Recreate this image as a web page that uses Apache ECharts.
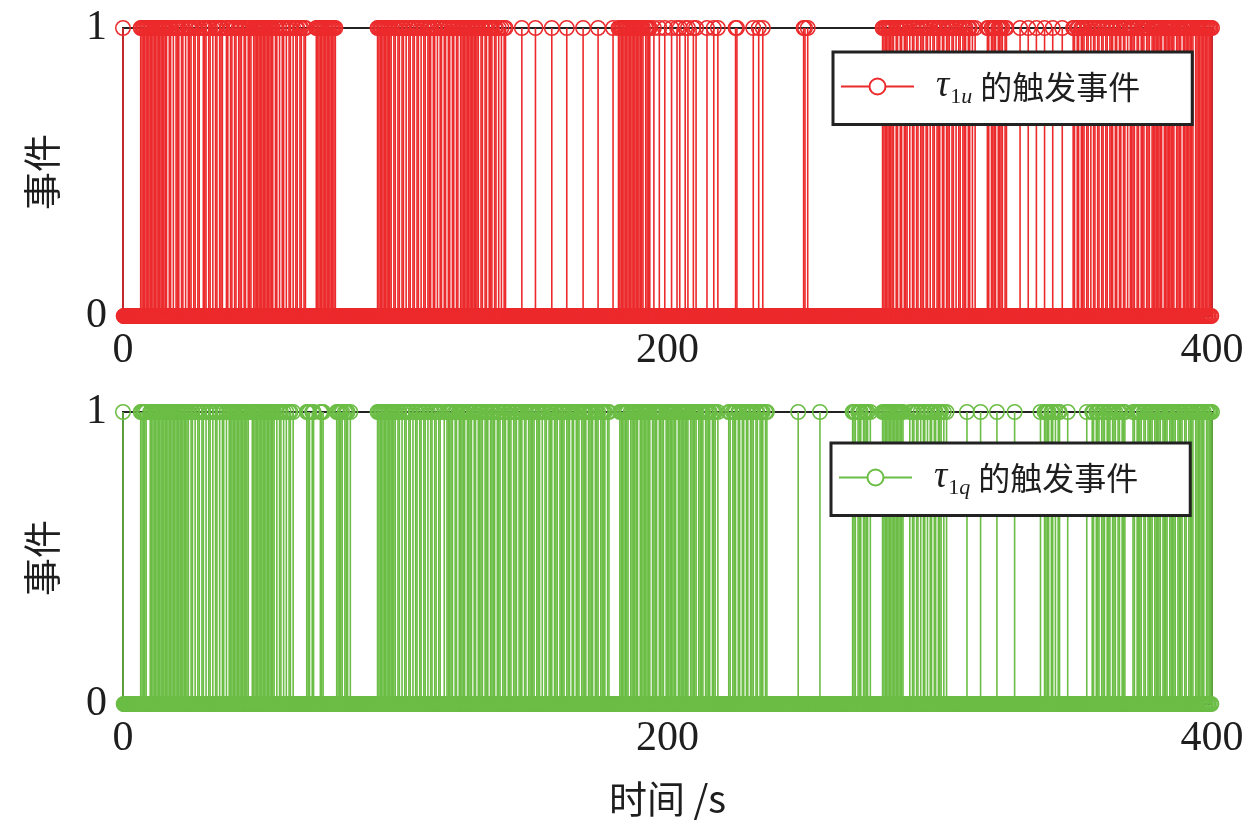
<!DOCTYPE html>
<html><head><meta charset="utf-8">
<script src="https://cdn.jsdelivr.net/npm/echarts@6/dist/echarts.min.js"></script>
<style>html,body{margin:0;padding:0;background:#fff}#c{width:1260px;height:825px}</style>
</head><body><div id="c"></div>
<script>
// sampling interval of the trigger-check flags (seconds)
const sampleStep = 0.5;
const xTicks = [0, 200, 400];
const yTicks = [0, 1];
const xName = '时间 /s';
const yName = '事件';
const redName = 'τ1u 的触发事件';
const greenName = 'τ1q 的触发事件';

// trigger flags, one char per 0.5 s sample, rows of 20 s
const redFlagRows = [
  '1000000000 0001111111 1111111111 1110110101',
  '1101101011 1011011001 1101101011 0111001101',
  '1011011101 1011101111 1111111111 1011010110',
  '1011010110 1101100000 0011111111 1111111000',
  '0000000000 0000000000 0000000111 1111111101',
  '1011011010 1101101101 0110111011 0101101101',
  '1011011011 1111111111 1101101101 1101101010',
  '1100000000 0001000000 0001000000 0000010000',
  '0000001000 0000000010 0000000001 0000000000',
  '1000111111 1111111111 1110111100 1000100010',
  '0001000101 0001010001 0100000001 0000100100',
  '0000000000 1100000000 0001000100 1000000000',
  '0000000000 0000000000 1101000000 0000000000',
  '0000000000 0000000000 0000000000 0000000011',
  '1111111011 0110111010 1101101110 1101011011',
  '1011011101 1010110111 0110101000 0000011011',
  '1101111011 0000000001 0000010000 0100000100',
  '0001000000 1000000011 0110111011 0101101101',
  '1011011101 1011011010 1111011011 1011101111',
  '1111011111 1110111101 1111111011 1111111111',
  '1'
];
const greenFlagRows = [
  '1000000000 0001111100 1111111111 1111111111',
  '1111111110 1101011011 0101101011 0101101011',
  '1111111111 1110011111 1111111111 1101011010',
  '1011010000 0000011101 1000011100 0000000111',
  '1101110100 0000000000 0000000111 1111111111',
  '1011010110 1101011011 0110101101 1011001011',
  '1110110111 1101111011 0111101110 1111011101',
  '1101110111 0111011011 1110111010 1101110111',
  '0111101110 1101110111 1011110111 0111101100',
  '0000011111 1101111110 1111111101 1110111101',
  '1111111011 1111110111 1101111011 1101110100',
  '0000011011 1011011011 0111011011 1011000000',
  '0000000000 0000001000 0000000000 0010000000',
  '0000000000 0000001110 1110111101 0000000011',
  '1111111111 1111000010 1101101011 0101101101',
  '1101010000 0000000000 1000000000 1000000000',
  '0010000000 0000010000 0000000000 0000100111',
  '1011010110 0000100000 0000000010 0011011101',
  '1101110111 0110111000 0011011110 1101111011',
  '1110111101 1111011110 1101111011 1111101111',
  '1'
];
</script>
<script>
const redFlags = redFlagRows.join('').replace(/\s/g, '');
const greenFlags = greenFlagRows.join('').replace(/\s/g, '');

function build(flags) {
  const stems = [], marks = [];
  for (let i = 0; i < flags.length; i++) {
    const t = i * sampleStep;
    const v = flags[i] === '1' ? 1 : 0;
    marks.push([t, v]);
    if (v) stems.push([t, 1]);
    // untriggered samples between trigger checks
    if (i < flags.length - 1) marks.push([t + sampleStep / 2, 0]);
  }
  return { stems, marks };
}
const red = build(redFlags);
const green = build(greenFlags);
const RED = '#ec2a2c';
const GREEN = '#6bbd45';
const TXT = '#1e1e1e';
const serif = 'Liberation Serif';
const cjk = 'Noto Sans CJK SC';

const chart = echarts.init(document.getElementById('c'));

function stemRender(color) {
  return function (params, api) {
    const t = api.value(0);
    const p0 = api.coord([t, 0]);
    const p1 = api.coord([t, api.value(1)]);
    return { type: 'line', shape: { x1: p0[0], y1: p0[1], x2: p1[0], y2: p1[1] },
      style: { stroke: color, lineWidth: 1.6 } };
  };
}

function legendCfg(name, top, left, sub) {
  return {
    data: [name], left: left, top: top, orient: 'horizontal',
    backgroundColor: '#fff', borderColor: '#222', borderWidth: 3, borderRadius: 0,
    padding: [16, 52, 16, 7], itemWidth: 73, itemHeight: 20, itemGap: 0,
    selectedMode: false,
    formatter: () => '{tau|τ}{sub|1}{subi|' + sub + '}{cjk|的触发事件}',
    textStyle: {
      color: TXT,
      rich: {
        tau: { fontFamily: serif, fontStyle: 'italic', fontSize: 37, lineHeight: 44, color: TXT, padding: [0, 1, 0, 17] },
        sub: { fontFamily: serif, fontSize: 22, lineHeight: 22, verticalAlign: 'bottom', color: TXT },
        subi: { fontFamily: serif, fontStyle: 'italic', fontSize: 22, lineHeight: 22, verticalAlign: 'bottom', color: TXT },
        cjk: { fontFamily: cjk, fontSize: 32, lineHeight: 44, color: TXT, padding: [0, 0, 0, 8] }
      }
    }
  };
}

const grids = [
  { left: 123, right: 48, top: 28, height: 288 },
  { left: 123, right: 48, top: 412, height: 292 }
];

const option = {
  animation: false,
  backgroundColor: '#fff',
  grid: grids.map(g => Object.assign({ show: true, borderColor: '#222', borderWidth: 2, backgroundColor: 'transparent' }, g)),
  legend: [legendCfg(redName, 52, 833, 'u'), legendCfg(greenName, 443, 831, 'q')],
  xAxis: [0, 1].map(i => ({
    type: 'value', gridIndex: i, min: xTicks[0], max: xTicks[xTicks.length - 1], interval: xTicks[1] - xTicks[0],
    axisLine: { show: false }, axisTick: { show: false }, splitLine: { show: false },
    axisLabel: { fontFamily: serif, fontSize: 42, color: TXT, margin: 14 },
    name: i === 1 ? xName : '', nameLocation: 'middle', nameGap: 76,
    nameTextStyle: { fontFamily: cjk, fontSize: 38, color: TXT }
  })),
  yAxis: [0, 1].map(i => ({
    type: 'value', gridIndex: i, min: yTicks[0], max: yTicks[1], interval: yTicks[1] - yTicks[0],
    axisLine: { show: false }, axisTick: { show: false }, splitLine: { show: false },
    axisLabel: { fontFamily: serif, fontSize: 42, color: TXT, margin: 16 },
    name: yName, nameLocation: 'middle', nameGap: 62,
    nameTextStyle: { fontFamily: cjk, fontSize: 38, color: TXT }
  })),
  series: [
    { type: 'custom', xAxisIndex: 0, yAxisIndex: 0, data: red.stems, renderItem: stemRender(RED), silent: true, z: 2 },
    { type: 'scatter', xAxisIndex: 0, yAxisIndex: 0, data: red.marks, symbol: 'circle', symbolSize: 14.5, silent: true, z: 3,
      itemStyle: { color: 'rgba(0,0,0,0)', borderColor: RED, borderWidth: 1.5, opacity: 1 } },
    { type: 'line', name: redName, xAxisIndex: 0, yAxisIndex: 0, data: [], symbol: 'emptyCircle', symbolSize: 14,
      color: RED, itemStyle: { color: RED }, lineStyle: { color: RED, width: 1.5 } },
    { type: 'custom', xAxisIndex: 1, yAxisIndex: 1, data: green.stems, renderItem: stemRender(GREEN), silent: true, z: 2 },
    { type: 'scatter', xAxisIndex: 1, yAxisIndex: 1, data: green.marks, symbol: 'circle', symbolSize: 14.5, silent: true, z: 3,
      itemStyle: { color: 'rgba(0,0,0,0)', borderColor: GREEN, borderWidth: 1.5, opacity: 1 } },
    { type: 'line', name: greenName, xAxisIndex: 1, yAxisIndex: 1, data: [], symbol: 'emptyCircle', symbolSize: 14,
      color: GREEN, itemStyle: { color: GREEN }, lineStyle: { color: GREEN, width: 1.5 } }
  ]
};
chart.setOption(option);
</script>
</body></html>
